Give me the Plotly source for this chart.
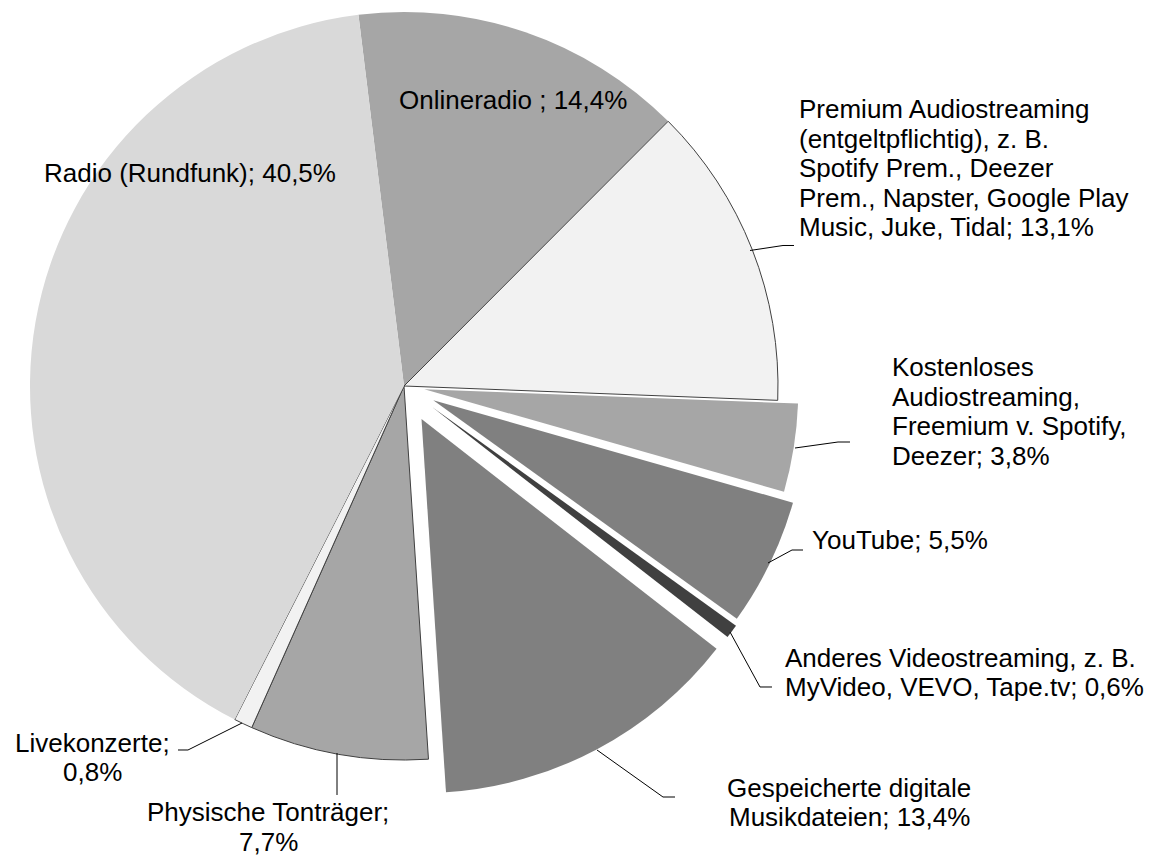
import math
import plotly.graph_objects as go

# Share of listening time by music source (percent)
labels = [
    "Onlineradio",
    "Premium Audiostreaming",
    "Kostenloses Audiostreaming",
    "YouTube",
    "Anderes Videostreaming",
    "Gespeicherte digitale Musikdateien",
    "Physische Tonträger",
    "Livekonzerte",
    "Radio (Rundfunk)",
]
shares = [14.4, 13.1, 3.8, 5.5, 0.6, 13.4, 7.7, 0.8, 40.5]
pulls = [0, 0, 0.055, 0.087, 0.095, 0.10, 0, 0, 0]

colors = ["#a6a6a6", "#f2f2f2", "#a6a6a6", "#808080", "#404040",
          "#808080", "#a6a6a6", "#f2f2f2", "#d9d9d9"]
edge_colors = ["#a6a6a6", "#404040", "#a6a6a6", "#808080", "#404040",
               "#808080", "#404040", "#404040", "#d9d9d9"]
edge_widths = [0, 1, 0, 0, 0, 0, 1, 1, 0]

# label text as printed, one entry per line
label_lines = [
    ["Onlineradio ; 14,4%"],
    ["Premium Audiostreaming", "(entgeltpflichtig), z. B.", "Spotify Prem., Deezer",
     "Prem., Napster, Google Play", "Music, Juke, Tidal; 13,1%"],
    ["Kostenloses", "Audiostreaming,", "Freemium v. Spotify,", "Deezer; 3,8%"],
    ["YouTube; 5,5%"],
    ["Anderes Videostreaming, z. B.", "MyVideo, VEVO, Tape.tv; 0,6%"],
    ["Gespeicherte digitale", "Musikdateien; 13,4%"],
    ["Physische Tonträger;", "7,7%"],
    ["Livekonzerte;", "0,8%"],
    ["Radio (Rundfunk); 40,5%"],
]

# canvas / pie geometry in page pixels
W, H = 1171, 856
OFF = 8          # default body margin of the html page
CX, CY, R = 404, 386, 374
START = -7
LINE_H = 29.5
FONT = dict(family="Liberation Sans, Arial, sans-serif", size=26, color="black")

# (x, y of first line, anchor) for each label
label_pos = [
    (513, 100, "center"),
    (797, 109, "left"),
    (890, 367, "left"),
    (810, 540, "left"),
    (783, 657.5, "left"),
    (849, 787.5, "center"),
    (268, 812, "center"),
    (92, 742.5, "center"),
    (190, 173, "center"),
]

# leader lines, pixel polylines
leaders = [
    [(750, 250.5), (783, 245.5), (794, 245.5)],
    [(795, 448), (838, 442), (850, 442)],
    [(768, 563), (792, 550), (803, 550)],
    [(730, 632), (760, 687), (772, 687)],
    [(597, 750), (663, 797), (675, 797)],
    [(242, 723), (188, 750), (178, 750)],
    [(337, 753), (337, 795)],
]


def px(x, y):
    """Page pixel -> paper coordinate."""
    return (x - OFF) / W, 1 - (y - OFF) / H


def pie_trace(visible, dx=0.0, dy=0.0):
    """Pie with only the slices in `visible` painted, shifted by (dx, dy) px."""
    x0, y0 = px(CX + dx - R, CY + dy + R)
    x1, y1 = px(CX + dx + R, CY + dy - R)
    return go.Pie(
        labels=labels,
        values=shares,
        sort=False,
        direction="clockwise",
        rotation=START,
        textinfo="none",
        showlegend=False,
        hoverinfo="label+percent",
        domain=dict(x=[x0, x1], y=[y0, y1]),
        marker=dict(
            colors=[c if i in visible else "rgba(0,0,0,0)" for i, c in enumerate(colors)],
            line=dict(
                color=[c if i in visible else "rgba(0,0,0,0)" for i, c in enumerate(edge_colors)],
                width=[w if i in visible else 0 for i, w in enumerate(edge_widths)],
            ),
        ),
    )


fig = go.Figure()

# slices that stay in place
fig.add_trace(pie_trace([i for i, p in enumerate(pulls) if p == 0]))

# exploded slices: each one drawn as its own pie moved out along its bisector
total = sum(shares)
cum = 0.0
for i, v in enumerate(shares):
    if pulls[i] > 0:
        mid = math.radians(START + (cum + v / 2) / total * 360)
        off = pulls[i] * R
        fig.add_trace(pie_trace([i], off * math.sin(mid), -off * math.cos(mid)))
    cum += v

annotations = []
for lines, (x, y, anchor) in zip(label_lines, label_pos):
    for k, line in enumerate(lines):
        ax, ay = px(x, y + k * LINE_H)
        annotations.append(dict(
            x=ax, y=ay, xref="paper", yref="paper",
            text=line, showarrow=False,
            xanchor=anchor, yanchor="middle",
            font=FONT,
        ))

shapes = []
for pts in leaders:
    path = "M " + " L ".join("{:.5f},{:.5f}".format(*px(x, y)) for x, y in pts)
    shapes.append(dict(
        type="path", path=path, xref="paper", yref="paper",
        line=dict(color="black", width=1),
    ))

fig.update_layout(
    width=W,
    height=H,
    margin=dict(l=0, r=0, t=0, b=0),
    paper_bgcolor="white",
    plot_bgcolor="white",
    annotations=annotations,
    shapes=shapes,
)

fig.write_html("out.html")
